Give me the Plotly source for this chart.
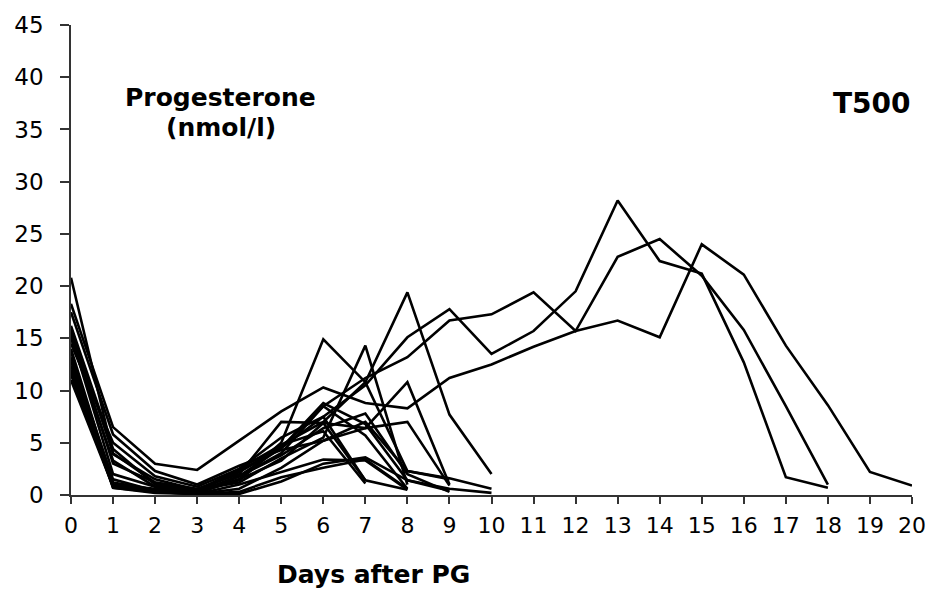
import plotly.graph_objects as go

# Progesterone (nmol/l) per animal, day 0 .. last sampled day after PG
s01 = [16.2, 4.4, 1.0, 0.4, 2.2, 4.5, 7.5, 10.5, 15.1, 17.8, 13.5, 15.7, 19.5, 28.2, 22.4, 21.2, 12.7, 1.7, 0.7]
s02 = [15.0, 3.3, 0.8, 0.3, 1.8, 4.0, 8.5, 11.2, 13.2, 16.7, 17.3, 19.4, 15.7, 22.8, 24.5, 21.0, 15.8, 8.5, 1.0]
s03 = [18.3, 6.5, 3.0, 2.4, 5.2, 8.0, 10.3, 8.8, 8.3, 11.2, 12.5, 14.2, 15.7, 16.7, 15.1, 24.0, 21.1, 14.3, 8.6, 2.2, 0.9]
s04 = [14.5, 5.0, 1.8, 0.8, 2.5, 4.8, 7.0, 10.8, 19.4, 7.7, 2.0]
s05 = [12.8, 1.2, 0.5, 0.2, 1.5, 5.0, 14.9, 10.8, 2.3, 1.6, 0.6]
s06 = [17.5, 5.8, 2.3, 1.0, 2.8, 4.3, 5.2, 6.4, 10.8, 1.0]
s07 = [20.8, 3.9, 1.5, 0.5, 1.2, 3.5, 5.5, 14.3, 1.0]
s08 = [11.0, 0.8, 0.3, 0.1, 0.1, 1.3, 3.0, 3.6, 1.4, 0.6, 0.2]
s09 = [15.6, 3.0, 1.2, 0.6, 2.0, 7.0, 6.9, 6.4, 7.0, 0.9]
s10 = [13.2, 1.5, 0.4, 0.1, 0.6, 2.6, 5.2, 7.0, 2.3, 1.5]
s11 = [12.4, 0.9, 0.4, 0.2, 1.8, 4.5, 8.8, 6.8, 1.4, 0.4]
s12 = [16.0, 4.0, 1.2, 0.5, 2.3, 4.5, 8.5, 5.7, 0.6]
s13 = [14.0, 1.0, 0.5, 0.2, 1.5, 3.3, 6.9, 1.4, 0.5]
s14 = [12.0, 0.7, 0.3, 0.1, 1.0, 2.2, 3.4, 3.3, 0.5]
s15 = [11.8, 0.8, 0.4, 0.3, 1.4, 4.8, 6.1, 1.1]
s16 = [11.5, 1.0, 0.6, 0.4, 2.5, 5.5, 7.5, 1.4]
s17 = [15.3, 2.0, 0.8, 0.3, 1.8, 3.8, 6.4, 7.8, 2.0, 0.3]
s18 = [13.7, 0.7, 0.2, 0.1, 0.3, 1.7, 2.6, 3.4, 0.6]

series = [s01, s02, s03, s04, s05, s06, s07, s08, s09, s10,
          s11, s12, s13, s14, s15, s16, s17, s18]

x_ticks = list(range(0, 21))
y_ticks = list(range(0, 46, 5))

fig = go.Figure()
for s in series:
    fig.add_trace(go.Scatter(
        x=list(range(len(s))), y=s, mode="lines",
        line=dict(color="black", width=2.6),
        showlegend=False, hoverinfo="skip", cliponaxis=False))

fig.update_layout(
    width=938, height=592,
    margin=dict(l=71, r=19, t=19, b=97),
    paper_bgcolor="white", plot_bgcolor="white",
    xaxis=dict(range=[0, 20], tickvals=x_ticks, ticks="outside", ticklen=7,
               tickwidth=1.5, tickcolor="#333", showline=True, linecolor="#333",
               linewidth=1.5, showgrid=False, zeroline=False,
               tickfont=dict(family="DejaVu Sans", size=22, color="black"),
               ticklabelstandoff=3),
    yaxis=dict(range=[0, 45], tickvals=y_ticks, ticks="outside", ticklen=9,
               tickwidth=1.5, tickcolor="#333", showline=True, linecolor="#333",
               linewidth=1.5, showgrid=False, zeroline=False,
               tickfont=dict(family="DejaVu Sans", size=23, color="black"),
               ticklabelstandoff=12),
)

bold = "DejaVu Sans"
fig.add_annotation(text="<b>Progesterone</b>", xref="paper", yref="paper",
                   x=0.178, y=0.845, xanchor="center", yanchor="middle",
                   showarrow=False, font=dict(family=bold, size=25, color="black"))
fig.add_annotation(text="<b>(nmol/l)</b>", xref="paper", yref="paper",
                   x=0.178, y=0.782, xanchor="center", yanchor="middle",
                   showarrow=False, font=dict(family=bold, size=25, color="black"))
fig.add_annotation(text="<b>T500</b>", xref="paper", yref="paper",
                   x=0.953, y=0.832, xanchor="center", yanchor="middle",
                   showarrow=False, font=dict(family=bold, size=28, color="black"))
fig.add_annotation(text="<b>Days after PG</b>", xref="paper", yref="paper",
                   x=0.360, y=-0.169, xanchor="center", yanchor="middle",
                   showarrow=False, font=dict(family=bold, size=25, color="black"))

fig.write_html("out.html")
